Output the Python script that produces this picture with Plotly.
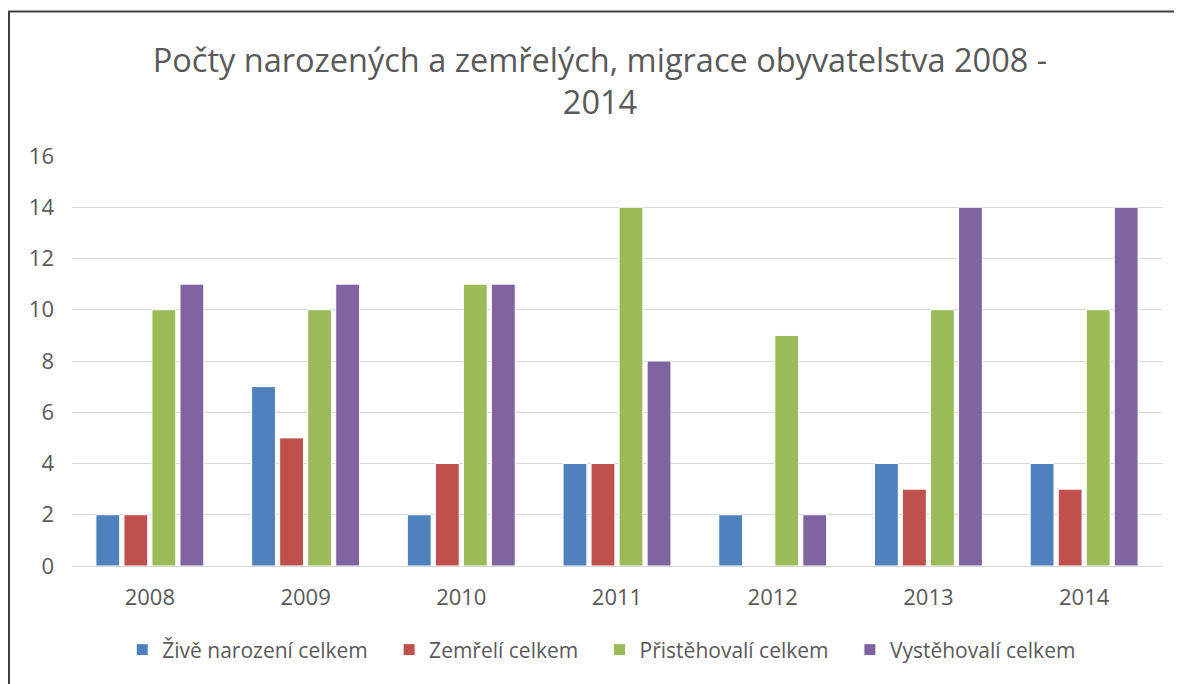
import plotly.graph_objects as go

years = ["2008", "2009", "2010", "2011", "2012", "2013", "2014"]
series_names = ["Živě narození celkem", "Zemřelí celkem", "Přistěhovalí celkem", "Vystěhovalí celkem"]
zive_narozeni = [2, 7, 2, 4, 2, 4, 4]
zemreli = [2, 5, 4, 4, 0, 3, 3]
pristehovali = [10, 10, 11, 14, 9, 10, 10]
vystehovali = [11, 11, 11, 8, 2, 14, 14]
colors = ["#4F81BD", "#C0504D", "#9BBB59", "#8064A2"]

pad = "&nbsp;" * 3
fig = go.Figure()
for i, (name, vals, col) in enumerate(zip(series_names, [zive_narozeni, zemreli, pristehovali, vystehovali], colors)):
    label = name + (pad if i < 3 else "")
    fig.add_trace(go.Bar(x=years, y=vals, name=label,
                         marker=dict(color=col, line=dict(color="white", width=1))))

W, H = 1182, 684
L, R, T, B = 64, 28, 148, 126
pw, ph = W - L - R, H - T - B

def px_x(p):
    return (p - L) / pw

def px_y(p):
    return (H - B - p) / ph

fig.update_layout(
    width=W, height=H,
    margin=dict(l=L, r=R, t=T, b=B),
    paper_bgcolor="white", plot_bgcolor="white",
    font=dict(family="Open Sans, Liberation Sans, sans-serif", color="#595959"),
    title=dict(text="Počty narozených a zemřelých, migrace obyvatelstva 2008 -<br>2014",
               x=592 / W, xanchor="center", y=1 - 64 / H, yanchor="top", yref="container",
               font=dict(size=32.5, color="#595959")),
    barmode="group", bargap=0.28, bargroupgap=0.15,
    showlegend=True,
    legend=dict(orientation="h", x=0.486, xanchor="center", y=px_y(642), yanchor="middle",
                font=dict(size=21, color="#595959"), traceorder="normal",
                itemwidth=30),
    xaxis=dict(showgrid=False, showline=True, linecolor="#D9D9D9", linewidth=1,
               ticks="", ticklabelstandoff=12, tickfont=dict(size=22, color="#595959")),
    yaxis=dict(range=[0, 16], dtick=2, showgrid=True, gridcolor="#D9D9D9", gridwidth=1,
               zeroline=False, showline=False, ticks="", ticklabelstandoff=17,
               tickfont=dict(size=22, color="#595959")),
    shapes=[dict(type="rect", xref="paper", yref="paper",
                 x0=px_x(1), x1=px_x(1300), y0=px_y(800), y1=px_y(3.5),
                 line=dict(color="#404040", width=2), fillcolor="rgba(0,0,0,0)", layer="below")],
)

fig.write_html("out.html")
